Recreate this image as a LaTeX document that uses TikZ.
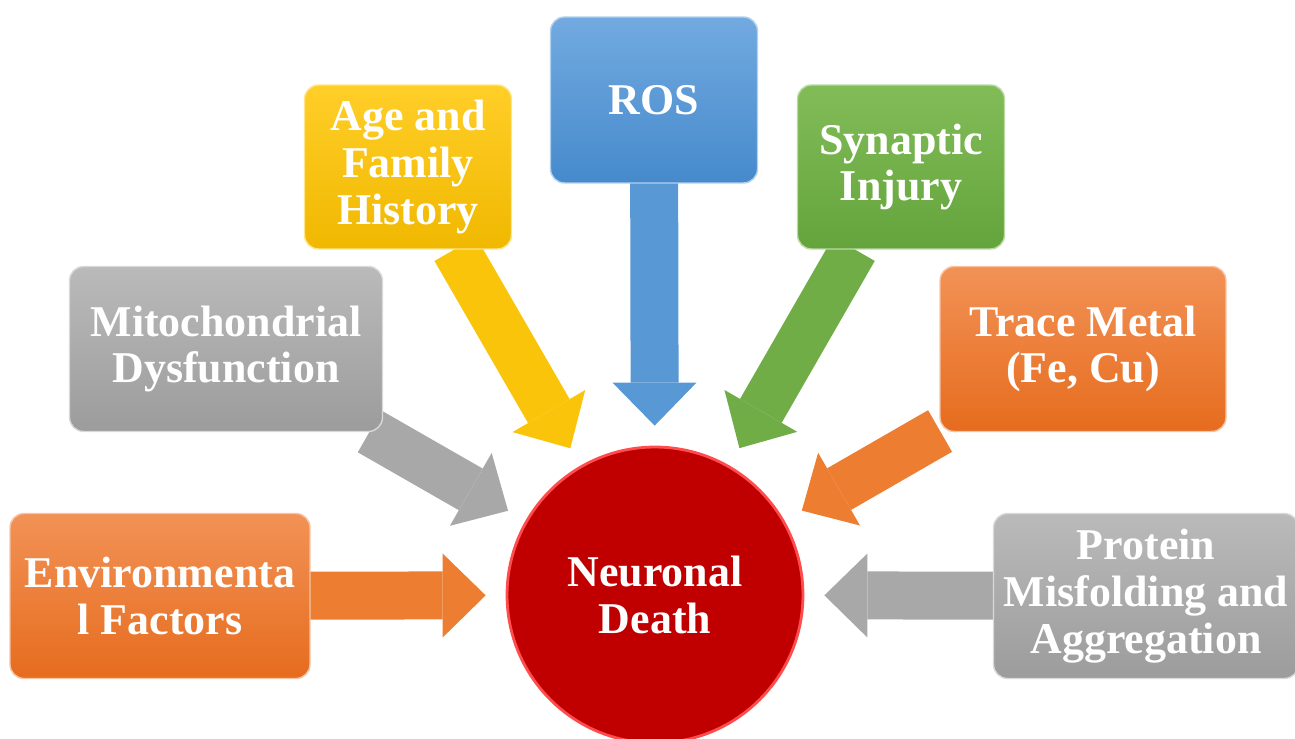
\documentclass[tikz,border=0pt]{standalone}
\usepackage{fontspec}
\setmainfont{Liberation Serif}
\usetikzlibrary{arrows.meta,backgrounds}

\definecolor{orangeTop}{RGB}{242,146,86}
\definecolor{orangeBot}{RGB}{230,108,30}
\definecolor{orangeArr}{RGB}{237,125,49}
\definecolor{grayTop}{RGB}{186,186,186}
\definecolor{grayBot}{RGB}{156,156,156}
\definecolor{grayArr}{RGB}{168,168,168}
\definecolor{yellowTop}{RGB}{255,206,40}
\definecolor{yellowBot}{RGB}{240,184,0}
\definecolor{yellowArr}{RGB}{250,196,10}
\definecolor{blueTop}{RGB}{114,170,224}
\definecolor{blueBot}{RGB}{70,138,204}
\definecolor{blueArr}{RGB}{88,152,213}
\definecolor{greenTop}{RGB}{130,188,88}
\definecolor{greenBot}{RGB}{100,164,60}
\definecolor{greenArr}{RGB}{112,173,71}
\definecolor{deathRed}{RGB}{192,0,0}

\begin{document}
\begin{tikzpicture}[x=0.02cm, y=-0.02cm,
	cause/.style 2 args={rectangle, rounded corners=0.28cm, inner sep=0pt, outer sep=0pt,
		top color=#1, bottom color=#2, draw=#1!55!white, line width=0.8pt,
		text=white, align=center, font=\bfseries\fontsize{25}{26.6}\selectfont},
	death/.style={circle, minimum size=5.92cm, inner sep=0pt, fill=deathRed,
		draw=red!70!white, line width=1.6pt,
		text=white, align=center, font=\bfseries\fontsize{25}{26.6}\selectfont},
	link/.style={color=#1, draw, line width=0.96cm,
		-{Triangle[length=0.86cm, width=1.68cm, line width=0pt, fill=#1]}, shorten >=0.4cm}]
	\useasboundingbox (0,0) rectangle (1295,739);
	\clip (0,0) rectangle (1295,739);

	\node[death] (death) at (655,595) {Neuronal\\Death};

	\node[cause={orangeTop}{orangeBot}, minimum width=6cm, minimum height=3.3cm] (env) at (160,596) {Environmenta\\l Factors};
	\node[cause={grayTop}{grayBot}, minimum width=6.26cm, minimum height=3.3cm] (mito) at (226,349) {Mitochondrial\\Dysfunction};
	\node[cause={yellowTop}{yellowBot}, minimum width=4.14cm, minimum height=3.28cm] (age) at (408,167) {Age and\\Family\\History};
	\node[cause={blueTop}{blueBot}, minimum width=4.14cm, minimum height=3.32cm] (ros) at (654,100) {ROS};
	\node[cause={greenTop}{greenBot}, minimum width=4.14cm, minimum height=3.28cm] (syn) at (901,167) {Synaptic\\Injury};
	\node[cause={orangeTop}{orangeBot}, minimum width=5.72cm, minimum height=3.3cm] (metal) at (1083,349) {Trace Metal\\(Fe, Cu)};
	\node[cause={grayTop}{grayBot}, minimum width=6.1cm, minimum height=3.3cm] (protein) at (1146,596) {Protein\\Misfolding and\\Aggregation};

	\begin{scope}[on background layer]
		\path [link=orangeArr] (env) edge (death);
		\path [link=grayArr] (mito) edge (death);
		\path [link=yellowArr] (age) edge (death);
		\path [link=blueArr] (ros) edge (death);
		\path [link=greenArr] (syn) edge (death);
		\path [link=orangeArr] (metal) edge (death);
		\path [link=grayArr] (protein) edge (death);
	\end{scope}
\end{tikzpicture}
\end{document}
